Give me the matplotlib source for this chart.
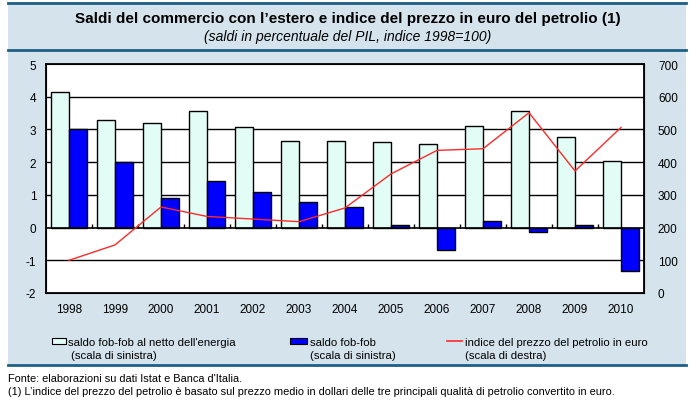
import numpy as np
import matplotlib.pyplot as plt
from matplotlib.patches import Rectangle
from matplotlib.lines import Line2D

plt.rcParams["font.family"] = ["Liberation Sans", "DejaVu Sans"]
plt.rcParams["axes.unicode_minus"] = False

years = ["1998", "1999", "2000", "2001", "2002", "2003", "2004",
         "2005", "2006", "2007", "2008", "2009", "2010"]
saldo_netto_energia = [4.13, 3.28, 3.21, 3.55, 3.06, 2.66, 2.66,
                       2.63, 2.54, 3.12, 3.55, 2.76, 2.02]
saldo_fob = [3.01, 2.00, 0.89, 1.41, 1.10, 0.77, 0.64,
             0.07, -0.68, 0.21, -0.13, 0.07, -1.32]
indice_petrolio = [100, 147, 263, 234, 226, 218, 260,
                   364, 436, 441, 551, 373, 506]

W, H = 695, 402
fig = plt.figure(figsize=(W / 100, H / 100), dpi=100, facecolor="white")

def fx(px):
    return px / W

def fy(py):
    return 1 - py / H

panel = "#d4e3ec"
dark = "#1d5f86"
light_bar = "#e2fdf6"
blue_bar = "#0000ff"
red = "#ff2a2a"

fig.patches.append(Rectangle((fx(8), fy(366)), fx(678), fy(3) - fy(366),
                             transform=fig.transFigure, facecolor=panel,
                             edgecolor="none", zorder=-5))
for py in (4, 51, 366):
    fig.add_artist(Line2D([fx(8), fx(686)], [fy(py), fy(py)], color=dark,
                          lw=2, transform=fig.transFigure))

fig.text(fx(348), fy(19), "Saldi del commercio con l\u2019estero e indice del prezzo in euro del petrolio (1)",
         ha="center", va="center", fontsize=11, fontweight="bold")
fig.text(fx(348), fy(37), "(saldi in percentuale del PIL, indice 1998=100)",
         ha="center", va="center", fontsize=10, style="italic")

ax = fig.add_axes([fx(46), fy(294), fx(598), fy(65) - fy(294)])
ax.set_facecolor("white")
x = np.arange(len(years))
bw = 0.39
ax.bar(x - bw / 2, saldo_netto_energia, bw, color=light_bar, edgecolor="black", lw=1, zorder=3)
ax.bar(x + bw / 2, saldo_fob, bw, color=blue_bar, edgecolor="black", lw=1, zorder=3)
ax.set_ylim(-2, 5)
ax.set_xlim(-0.5, len(years) - 0.5)
ax.set_yticks(range(-2, 6))
for v in (-1, 1, 2, 3, 4):
    ax.axhline(v, color="black", lw=1, zorder=1)
ax.axhline(0, color="black", lw=1.2, zorder=4)
ax.vlines(x[:-1] + 0.5, 0, 0.12, color="black", lw=1, zorder=4)
ax.set_xticks(x)
ax.set_xticklabels(years)
ax.tick_params(length=0, labelsize=8.5, pad=7)
for s in ax.spines.values():
    s.set_linewidth(1.3)

ax2 = ax.twinx()
ax2.plot(x, indice_petrolio, color=red, lw=1, zorder=5)
ax2.set_ylim(0, 700)
ax2.set_yticks(range(0, 701, 100))
ax2.tick_params(length=0, labelsize=8.5, pad=10)

# legend
ly = 343
fig.patches.append(Rectangle((fx(52), fy(ly + 2)), fx(14), fy(ly - 4) - fy(ly + 2),
                             transform=fig.transFigure, facecolor=light_bar,
                             edgecolor="black", lw=0.8))
fig.patches.append(Rectangle((fx(290), fy(ly + 2)), fx(17), fy(ly - 4) - fy(ly + 2),
                             transform=fig.transFigure, facecolor=blue_bar,
                             edgecolor="black", lw=0.8))
fig.add_artist(Line2D([fx(447), fx(462)], [fy(ly - 1), fy(ly - 1)], color=red,
                      lw=1.2, transform=fig.transFigure))
for px, label in ((68, "saldo fob-fob al netto dell'energia"),
                  (310, "saldo fob-fob"),
                  (465, "indice del prezzo del petrolio in euro")):
    fig.text(fx(px), fy(ly), label, ha="left", va="center", fontsize=8.2)
for px, label in ((71, "(scala di sinistra)"),
                  (310, "(scala di sinistra)"),
                  (465, "(scala di destra)")):
    fig.text(fx(px), fy(ly + 13), label, ha="left", va="center", fontsize=8.2)

fig.text(fx(8), fy(379), "Fonte: elaborazioni su dati Istat e Banca d'Italia.",
         ha="left", va="center", fontsize=7.9)
fig.text(fx(8), fy(392), "(1) L\u2019indice del prezzo del petrolio \u00e8 basato sul prezzo medio in dollari delle tre principali qualit\u00e0 di petrolio convertito in euro.",
         ha="left", va="center", fontsize=7.9)

fig.savefig("out.png", dpi=100, facecolor=fig.get_facecolor())
